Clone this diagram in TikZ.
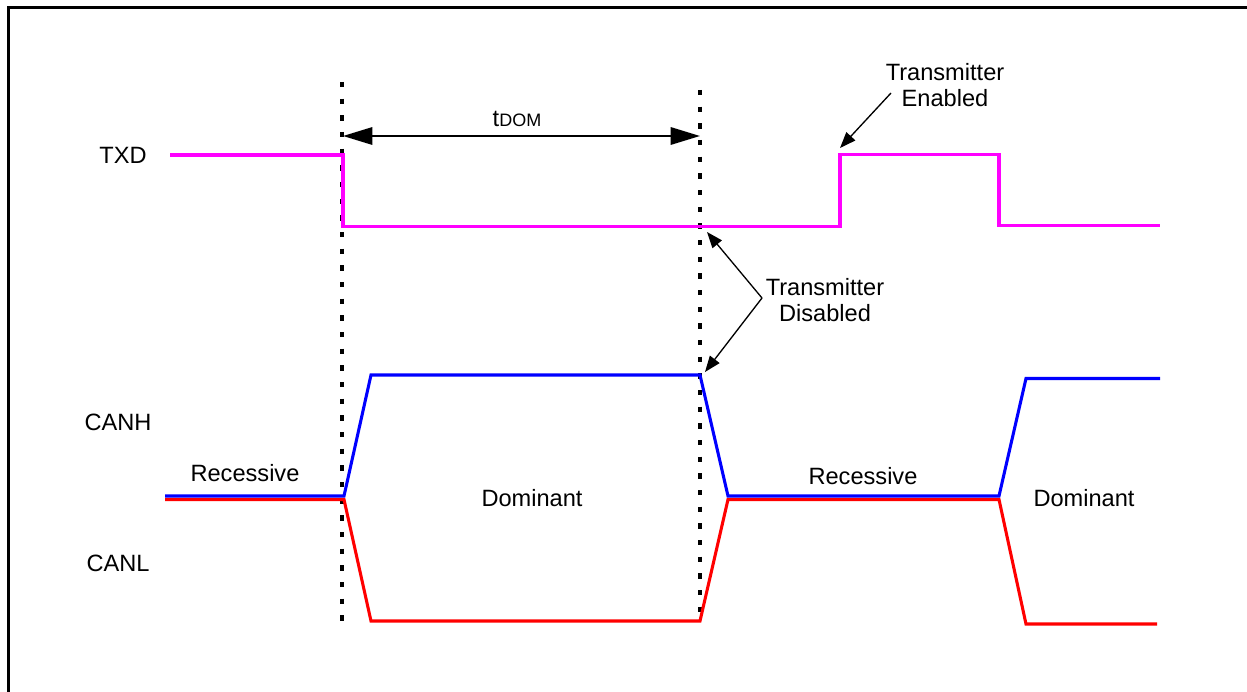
\documentclass[tikz,border=0pt]{standalone}
\usepackage{fontspec}
\setmainfont{Liberation Sans}
\usetikzlibrary{arrows.meta}
\definecolor{txdcol}{RGB}{255,0,255}
\definecolor{hcol}{RGB}{0,0,255}
\definecolor{lcol}{RGB}{255,0,0}
\begin{document}
\begin{tikzpicture}[x=0.75pt,y=-0.75pt,
  sig/.style={line width=2.3pt, line join=miter},
  txdline/.style={sig, draw=txdcol},
  hline/.style={sig, draw=hcol},
  lline/.style={sig, draw=lcol},
  dotmark/.style={draw=black, line width=2.4pt, dash pattern=on 4pt off 8.5pt},
  lbl/.style={inner sep=0pt, font=\fontsize{17.7}{19.5}\selectfont, align=center},
  callout/.style={line width=1pt, -{Triangle[length=12pt,width=9pt]}},
  span/.style={line width=1.6pt, {Triangle[length=22pt,width=13pt]}-{Triangle[length=22pt,width=13pt]}}
]
\useasboundingbox (0,0) rectangle (1247,692);
% frame (only top and left edges inside the picture)
\draw[line width=2pt] (8.5,700) -- (8.5,7.5) -- (1260,7.5);

% dotted markers
\coordinate (d1t) at (342,82);
\coordinate (d1b) at (342,626);
\coordinate (d2t) at (700,90);
\coordinate (d2b) at (700,622);
\draw[dotmark] (d1t) -- (d1b);
\draw[dotmark] (d2t) -- (d2b);

% tDOM
\coordinate (ta) at (343,136);
\coordinate (tb) at (700,136);
\draw[span] (ta) -- (tb);
\node[lbl, anchor=base] (tdom) at (517,127) {t{\fontsize{13.5}{15}\selectfont DOM}};

% signal labels
\node[lbl] (txdl) at (123,155) {TXD};
\node[lbl] (canhl) at (118,422) {CANH};
\node[lbl] (canll) at (118,563) {CANL};

% TXD
\coordinate (x0) at (170,155);
\coordinate (x1) at (343,155);
\coordinate (x2) at (343,226.5);
\coordinate (x3) at (840,226.5);
\coordinate (x4) at (840,154.5);
\coordinate (x5) at (999,154.5);
\coordinate (x6) at (999,225.5);
\coordinate (x7) at (1160,225.5);
\draw[txdline] (x0) -- (x1) -- (x2) -- (x3) -- (x4) -- (x5) -- (x6) -- (x7);

% CANL (drawn first, under CANH)
\coordinate (l0) at (165,499.5);
\coordinate (l1) at (344,499.5);
\coordinate (l2) at (371,621);
\coordinate (l3) at (700,621);
\coordinate (l4) at (728,499.5);
\coordinate (l5) at (999,499.5);
\coordinate (l6) at (1026,624);
\coordinate (l7) at (1157,624);
\draw[lline] (l0) -- (l1) -- (l2) -- (l3) -- (l4) -- (l5) -- (l6) -- (l7);

% CANH
\coordinate (h0) at (165,496);
\coordinate (h1) at (344,496);
\coordinate (h2) at (371,375);
\coordinate (h3) at (700,375);
\coordinate (h4) at (728,496);
\coordinate (h5) at (999,496);
\coordinate (h6) at (1026,378.5);
\coordinate (h7) at (1160,378.5);
\draw[hline] (h0) -- (h1) -- (h2) -- (h3) -- (h4) -- (h5) -- (h6) -- (h7);

% state labels
\node[lbl] (rec1) at (245,473) {Recessive};
\node[lbl] (dom1) at (532,498) {Dominant};
\node[lbl] (rec2) at (863,476) {Recessive};
\node[lbl] (dom2) at (1084,498) {Dominant};

% callouts
\node[lbl] (tena) at (945,85) {Transmitter\\Enabled};
\coordinate (ena0) at (891,93);
\coordinate (ena1) at (840,148);
\draw[callout] (ena0) -- (ena1);

\node[lbl] (tdis) at (825,300) {Transmitter\\Disabled};
\coordinate (dis0) at (762,298);
\coordinate (dis1) at (707,232);
\coordinate (dis2) at (705,372);
\draw[callout] (dis0) -- (dis1);
\draw[callout] (dis0) -- (dis2);
\end{tikzpicture}
\end{document}
